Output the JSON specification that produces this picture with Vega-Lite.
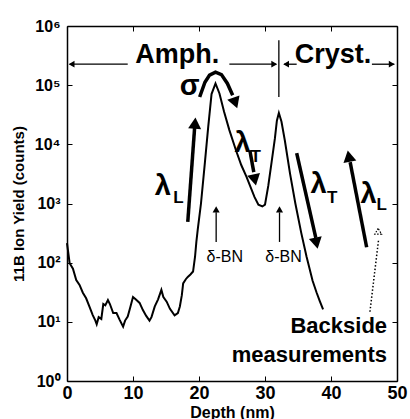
{
  "$schema": "https://vega.github.io/schema/vega-lite/v6.json",
  "width": 330,
  "height": 355,
  "autosize": {"type": "none"},
  "padding": {"left": 67, "top": 26, "right": 13, "bottom": 38},
  "background": "white",
  "config": {
    "view": {"stroke": null},
    "axis": {
      "grid": false,
      "domainColor": "black",
      "domainWidth": 1.5,
      "tickColor": "black",
      "tickWidth": 1,
      "tickSize": -5,
      "labelColor": "black",
      "titleColor": "black",
      "labelFont": "Liberation Sans",
      "titleFont": "Liberation Sans",
      "labelFontWeight": "bold",
      "titleFontWeight": "bold"
    }
  },
  "datasets": {
    "curve": [
      {"x": 0.0, "y": 214}, {"x": 0.4, "y": 98}, {"x": 0.9, "y": 79}, {"x": 1.4, "y": 51},
      {"x": 1.9, "y": 42}, {"x": 2.4, "y": 31}, {"x": 2.9, "y": 25}, {"x": 3.4, "y": 18},
      {"x": 3.9, "y": 13}, {"x": 4.3, "y": 10.5}, {"x": 4.5, "y": 9.1}, {"x": 4.8, "y": 12},
      {"x": 5.2, "y": 11.2}, {"x": 5.5, "y": 20}, {"x": 5.8, "y": 19}, {"x": 6.2, "y": 23.4},
      {"x": 6.5, "y": 20}, {"x": 7.0, "y": 14.1}, {"x": 7.5, "y": 14.1}, {"x": 8.0, "y": 10.7},
      {"x": 8.5, "y": 8.3}, {"x": 8.8, "y": 10.5}, {"x": 9.2, "y": 12.3}, {"x": 9.6, "y": 17.8},
      {"x": 10.0, "y": 26.3}, {"x": 10.4, "y": 24}, {"x": 11.0, "y": 20.9}, {"x": 11.5, "y": 15.8},
      {"x": 12.0, "y": 12.6}, {"x": 12.5, "y": 10.5}, {"x": 12.8, "y": 12}, {"x": 13.3, "y": 18.2},
      {"x": 13.8, "y": 24}, {"x": 14.3, "y": 34.7}, {"x": 14.6, "y": 26.3}, {"x": 15.1, "y": 21.9},
      {"x": 15.6, "y": 16.6}, {"x": 16.3, "y": 12.9}, {"x": 16.8, "y": 14.1}, {"x": 17.1, "y": 18.2},
      {"x": 17.4, "y": 28.2}, {"x": 17.6, "y": 44.7}, {"x": 18.0, "y": 52.5}, {"x": 18.3, "y": 57.5},
      {"x": 18.7, "y": 63.1}, {"x": 19.1, "y": 70.8}, {"x": 19.4, "y": 126}, {"x": 19.6, "y": 224},
      {"x": 19.8, "y": 355}, {"x": 20.3, "y": 1000}, {"x": 20.9, "y": 5010}, {"x": 21.4, "y": 19950},
      {"x": 21.9, "y": 70800}, {"x": 22.5, "y": 107000}, {"x": 23.1, "y": 72400}, {"x": 23.8, "y": 35500},
      {"x": 24.6, "y": 17400}, {"x": 25.6, "y": 7940}, {"x": 26.4, "y": 4470}, {"x": 27.2, "y": 2820},
      {"x": 28.4, "y": 1290}, {"x": 29.0, "y": 955}, {"x": 29.6, "y": 891}, {"x": 30.0, "y": 955},
      {"x": 30.5, "y": 2000}, {"x": 31.0, "y": 5010}, {"x": 31.5, "y": 12600}, {"x": 31.8, "y": 25100},
      {"x": 32.1, "y": 33900}, {"x": 32.5, "y": 24000}, {"x": 33.0, "y": 11700}, {"x": 33.8, "y": 3160},
      {"x": 34.6, "y": 1000}, {"x": 35.5, "y": 316}, {"x": 36.3, "y": 126}, {"x": 37.2, "y": 50},
      {"x": 37.8, "y": 31.6}, {"x": 38.3, "y": 22.4}, {"x": 38.8, "y": 16.2}
    ],
    "thick": [
      {"id": "sigma", "x": 20.1, "y": 63100}, {"id": "sigma", "x": 20.9, "y": 112000},
      {"id": "sigma", "x": 21.6, "y": 148000}, {"id": "sigma", "x": 22.5, "y": 166000},
      {"id": "sigma", "x": 23.4, "y": 151000}, {"id": "sigma", "x": 24.3, "y": 107000},
      {"id": "sigma", "x": 25.1, "y": 67600},
      {"id": "lamL1", "x": 18.3, "y": 490}, {"id": "lamL1", "x": 19.35, "y": 19950},
      {"id": "lamT1", "x": 27.7, "y": 7940}, {"id": "lamT1", "x": 28.3, "y": 3390},
      {"id": "lamT2", "x": 34.8, "y": 7080}, {"id": "lamT2", "x": 37.7, "y": 263},
      {"id": "lamL2", "x": 45.4, "y": 182}, {"id": "lamL2", "x": 42.9, "y": 5010}
    ],
    "thin": [
      {"id": "amL", "x": 9.2, "y": 226000}, {"id": "amL", "x": 0.4, "y": 226000},
      {"id": "amR", "x": 24.6, "y": 226000}, {"id": "amR", "x": 31.7, "y": 226000},
      {"id": "div", "x": 32.1, "y": 575000}, {"id": "div", "x": 32.1, "y": 63100},
      {"id": "crL", "x": 34.8, "y": 226000}, {"id": "crL", "x": 32.9, "y": 226000},
      {"id": "crR", "x": 46.2, "y": 226000}, {"id": "crR", "x": 49.6, "y": 226000},
      {"id": "d1", "x": 22.6, "y": 224}, {"id": "d1", "x": 22.6, "y": 708},
      {"id": "d2", "x": 32.2, "y": 224}, {"id": "d2", "x": 32.2, "y": 708}
    ],
    "dotted": [
      {"id": "bs", "x": 47.2, "y": 240}, {"id": "bs", "x": 45.9, "y": 14.8}
    ],
    "heads": [
      {"id": "amL", "x": 0.7, "y": 226000},
      {"id": "crL", "x": 33.2, "y": 226000},
      {"id": "amR", "x": 31.4, "y": 226000},
      {"id": "crR", "x": 49.2, "y": 226000},
      {"id": "d1", "x": 22.6, "y": 794},
      {"id": "d2", "x": 32.2, "y": 794},
      {"id": "sigma", "x": 25.5, "y": 50100},
      {"id": "lamL1", "x": 19.4, "y": 22900},
      {"id": "lamT1", "x": 28.45, "y": 2510},
      {"id": "lamT2", "x": 37.8, "y": 214},
      {"id": "lamL2", "x": 42.7, "y": 6310},
      {"id": "bs", "x": 47.15, "y": 339}
    ],
    "big": [
      {"t": "Amph.", "x": 16.7, "y": 234000},
      {"t": "Cryst.", "x": 40.3, "y": 234000}
    ],
    "greek": [
      {"t": "σ", "x": 18.6, "y": 67600},
      {"t": "λ", "x": 14.5, "y": 1380},
      {"t": "λ", "x": 26.6, "y": 7410},
      {"t": "λ", "x": 38.1, "y": 1510},
      {"t": "λ", "x": 45.7, "y": 1020}
    ],
    "subs": [
      {"t": "L", "x": 16.1, "y": 1020},
      {"t": "T", "x": 27.8, "y": 5010},
      {"t": "T", "x": 39.4, "y": 1020},
      {"t": "L", "x": 46.9, "y": 776}
    ],
    "delta": [
      {"t": "δ-BN", "x": 23.9, "y": 102},
      {"t": "δ-BN", "x": 32.8, "y": 102}
    ],
    "back": [
      {"t": "Backside", "x": 48.5, "y": 6.46},
      {"t": "measurements", "x": 48.5, "y": 2.09}
    ]
  },
  "layer": [
    {
      "encoding": {
        "x": {
          "field": "x", "type": "quantitative",
          "scale": {"domain": [0, 50], "nice": false, "zero": false},
          "axis": {
            "orient": "bottom", "values": [0, 10, 20, 30, 40, 50],
            "title": "Depth (nm)", "titleFontSize": 16, "titlePadding": 2,
            "labelFontSize": 18, "labelPadding": 8, "labelFlush": false
          }
        },
        "y": {
          "field": "y", "type": "quantitative",
          "scale": {"type": "log", "domain": [1, 1000000], "nice": false},
          "axis": {
            "orient": "left", "values": [1, 10, 100, 1000, 10000, 100000, 1000000],
            "labelExpr": "'10' + ['⁰','¹','²','³','⁴','⁵','⁶'][round(log(datum.value)/LN10)]",
            "title": "11B Ion Yield (counts)", "titleFontSize": 15, "titlePadding": 8,
            "labelFontSize": 16, "labelPadding": 12
          }
        }
      },
      "layer": [
        {"data": {"name": "curve"}, "mark": {"type": "line", "color": "black", "strokeWidth": 2}},
        {"data": {"name": "thick"}, "mark": {"type": "line", "color": "black", "strokeWidth": 3.5}, "encoding": {"detail": {"field": "id"}}},
        {"data": {"name": "thin"}, "mark": {"type": "line", "color": "black", "strokeWidth": 1.3}, "encoding": {"detail": {"field": "id"}}},
        {"data": {"name": "dotted"}, "mark": {"type": "line", "color": "black", "strokeWidth": 1.5, "strokeDash": [1.5, 2]}, "encoding": {"detail": {"field": "id"}}},
        {"data": {"name": "heads"}, "transform": [{"filter": {"field": "id", "oneOf": ["amL", "crL"]}}], "mark": {"type": "point", "shape": "triangle-left", "filled": true, "color": "black", "opacity": 1, "size": 45}},
        {"data": {"name": "heads"}, "transform": [{"filter": {"field": "id", "oneOf": ["amR", "crR"]}}], "mark": {"type": "point", "shape": "triangle-right", "filled": true, "color": "black", "opacity": 1, "size": 45}},
        {"data": {"name": "heads"}, "transform": [{"filter": {"field": "id", "oneOf": ["d1", "d2"]}}], "mark": {"type": "point", "shape": "triangle-up", "filled": true, "color": "black", "opacity": 1, "size": 50}},
        {"data": {"name": "heads"}, "transform": [{"filter": {"field": "id", "equal": "sigma"}}], "mark": {"type": "point", "shape": "triangle-down", "filled": true, "color": "black", "opacity": 1, "size": 170, "angle": -20}},
        {"data": {"name": "heads"}, "transform": [{"filter": {"field": "id", "equal": "lamL1"}}], "mark": {"type": "point", "shape": "triangle-up", "filled": true, "color": "black", "opacity": 1, "size": 170, "angle": 4}},
        {"data": {"name": "heads"}, "transform": [{"filter": {"field": "id", "oneOf": ["lamT1", "lamT2"]}}], "mark": {"type": "point", "shape": "triangle-down", "filled": true, "color": "black", "opacity": 1, "size": 170, "angle": -12}},
        {"data": {"name": "heads"}, "transform": [{"filter": {"field": "id", "equal": "lamL2"}}], "mark": {"type": "point", "shape": "triangle-up", "filled": true, "color": "black", "opacity": 1, "size": 170, "angle": -11}},
        {"data": {"name": "heads"}, "transform": [{"filter": {"field": "id", "equal": "bs"}}], "mark": {"type": "point", "shape": "triangle-up", "filled": false, "color": "black", "opacity": 1, "size": 45, "strokeWidth": 1.2, "strokeDash": [1.5, 1.5]}},
        {"data": {"name": "big"}, "mark": {"type": "text", "font": "Liberation Sans", "fontWeight": "bold", "fontSize": 27, "align": "center", "baseline": "alphabetic", "color": "black"}, "encoding": {"text": {"field": "t"}}},
        {"data": {"name": "greek"}, "mark": {"type": "text", "font": "Liberation Sans", "fontWeight": "bold", "fontSize": 29, "align": "center", "baseline": "alphabetic", "color": "black"}, "encoding": {"text": {"field": "t"}}},
        {"data": {"name": "subs"}, "mark": {"type": "text", "font": "Liberation Sans", "fontWeight": "bold", "fontSize": 17, "align": "left", "baseline": "alphabetic", "color": "black"}, "encoding": {"text": {"field": "t"}}},
        {"data": {"name": "delta"}, "mark": {"type": "text", "font": "Liberation Sans", "fontSize": 16, "align": "center", "baseline": "alphabetic", "color": "black"}, "encoding": {"text": {"field": "t"}}},
        {"data": {"name": "back"}, "mark": {"type": "text", "font": "Liberation Sans", "fontWeight": "bold", "fontSize": 22, "align": "right", "baseline": "alphabetic", "color": "black"}, "encoding": {"text": {"field": "t"}}}
      ]
    },
    {
      "data": {"name": "curve"},
      "mark": {"type": "point", "opacity": 0},
      "encoding": {
        "x": {
          "field": "x", "type": "quantitative",
          "axis": {"orient": "top", "values": [0, 10, 20, 30, 40, 50], "labels": false, "title": null}
        },
        "y": {
          "field": "y", "type": "quantitative",
          "axis": {"orient": "right", "values": [1, 10, 100, 1000, 10000, 100000, 1000000], "labels": false, "title": null}
        }
      }
    }
  ],
  "resolve": {"axis": {"x": "independent", "y": "independent"}}
}
